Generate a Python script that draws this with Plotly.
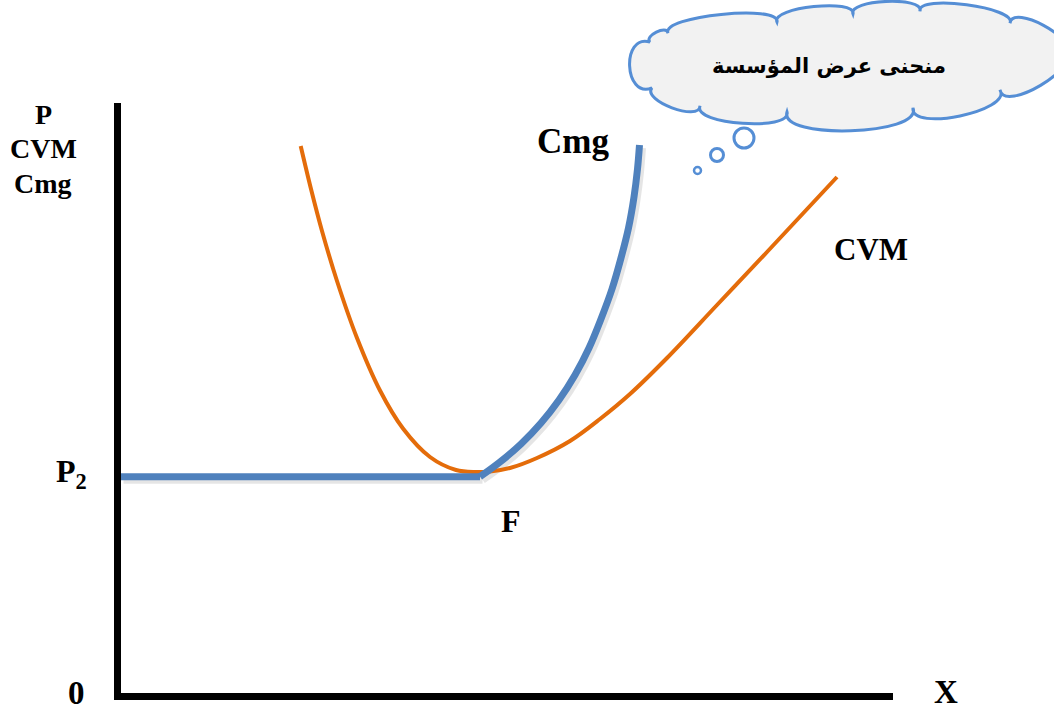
import math
import plotly.graph_objects as go

# ---------------- data (chart units: quantity X, price / cost Y) ----------------
cvm_q = [17.97, 19.0, 20.1, 21.6, 23.6, 25.9, 28.2, 30.9, 33.5, 35.5,
         36.9, 38.9, 41.6, 44.9, 47.9, 50.9, 54.6, 59.6, 64.6, 71.6]
cvm_c = [54.7, 50.4, 46.2, 41.2, 35.5, 30.25, 26.45, 23.6, 22.3, 22.1,
         22.15, 22.5, 23.5, 25.2, 27.4, 29.9, 33.5, 38.8, 44.1, 51.6]

cmg_flat_q = [0.0, 35.9]
cmg_flat_c = [21.63, 21.63]
cmg_q = [35.9, 37.9, 40.0, 42.0, 43.8, 45.4, 46.8, 48.0, 49.1, 50.0, 50.75, 51.3, 51.65, 51.85]
cmg_c = [21.63, 23.1, 24.9, 27.0, 29.3, 31.8, 34.5, 37.4, 40.4, 43.5, 46.5, 49.6, 52.4, 54.8]

x_range = [0, 77.2]
y_range = [0, 59.0]

y_axis_title = ["P", "CVM", "Cmg"]
curve_labels = ["Cmg", "CVM"]
point_labels = ["P<sub>2</sub>", "F", "0", "X"]
cloud_text = "منحنى عرض المؤسسة"

# ---------------- layout geometry ----------------
W_FIG, H_FIG = 1054, 711
L, T, W, H = 121, 103, 772, 590


def fx(px):
    return (px - L) / W


def fy(py):
    return (T + H - py) / H


BLUE = "#4F81BD"
ORANGE = "#E46C0A"
CLOUD_LINE = "#558ED5"
SERIF = "Liberation Serif, Times New Roman, serif"

fig = go.Figure()

# soft shadow of the supply curve
fig.add_trace(go.Scatter(x=[q + 0.25 for q in cmg_flat_q], y=[c - 0.3 for c in cmg_flat_c],
                         mode="lines", line=dict(color="rgba(0,0,0,0.10)", width=8),
                         hoverinfo="skip"))
fig.add_trace(go.Scatter(x=[q + 0.25 for q in cmg_q], y=[c - 0.3 for c in cmg_c],
                         mode="lines", line=dict(color="rgba(0,0,0,0.10)", width=8, shape="spline"),
                         hoverinfo="skip"))

fig.add_trace(go.Scatter(x=cvm_q, y=cvm_c, mode="lines", name="CVM",
                         line=dict(color=ORANGE, width=4, shape="spline", smoothing=1.0)))
fig.add_trace(go.Scatter(x=cmg_flat_q, y=cmg_flat_c, mode="lines", name="Cmg",
                         line=dict(color=BLUE, width=7)))
fig.add_trace(go.Scatter(x=cmg_q, y=cmg_c, mode="lines", name="Cmg",
                         line=dict(color=BLUE, width=7, shape="spline", smoothing=1.0)))

# ---------------- cloud callout (decoration, pixel layout) ----------------
junctions = [(1064, 52), (1000, 90), (913, 108), (787, 112), (700, 106), (652, 88),
             (650, 42), (668, 33), (777, 22), (853, 14), (920, 11), (1010, 23), (1064, 52)]
bulge = [0.30, 0.26, 0.22, 0.22, 0.30, 0.62, 0.40, 0.16, 0.20, 0.22, 0.18, 0.30]

path = []
sx, sy = junctions[0]
path.append(f"M{fx(sx):.5f},{fy(sy):.5f}")
for (ax_, ay_), (bx_, by_), k in zip(junctions[:-1], junctions[1:], bulge):
    ux, uy = bx_ - ax_, by_ - ay_
    chord = math.hypot(ux, uy)
    ux, uy = ux / chord, uy / chord
    nx, ny = uy, -ux  # outward for clockwise traversal on screen
    d = k * chord
    c1 = (ax_ + d * (nx - 0.35 * ux), ay_ + d * (ny - 0.35 * uy))
    c2 = (bx_ + d * (nx + 0.35 * ux), by_ + d * (ny + 0.35 * uy))
    path.append(f"C{fx(c1[0]):.5f},{fy(c1[1]):.5f} {fx(c2[0]):.5f},{fy(c2[1]):.5f} {fx(bx_):.5f},{fy(by_):.5f}")
path.append("Z")

shapes = [dict(type="path", xref="paper", yref="paper", path=" ".join(path),
               fillcolor="#F2F2F2", line=dict(color=CLOUD_LINE, width=3), layer="above")]

for (bx, by, br, bw) in [(744, 138, 10, 3), (717, 155, 6.5, 3), (697.5, 170.5, 3.5, 2.5)]:
    shapes.append(dict(type="circle", xref="paper", yref="paper",
                       x0=fx(bx - br), x1=fx(bx + br), y0=fy(by + br), y1=fy(by - br),
                       fillcolor="white", line=dict(color=CLOUD_LINE, width=bw), layer="above"))

annotations = []


def lab(text, px, py, size, family=SERIF, bold=True):
    annotations.append(dict(text=f"<b>{text}</b>" if bold else text, xref="paper", yref="paper",
                            x=fx(px), y=fy(py), xanchor="center", yanchor="middle",
                            showarrow=False, font=dict(family=family, size=size, color="black")))


lab(y_axis_title[0], 43, 114, 28)
lab(y_axis_title[1], 43, 148, 28)
lab(y_axis_title[2], 43, 184, 28)
lab(curve_labels[0], 573, 141, 35)
lab(curve_labels[1], 871, 249, 31)
lab(point_labels[0], 71, 473, 32)
lab(point_labels[1], 511, 521, 32)
lab(point_labels[2], 76, 693, 33)
lab(point_labels[3], 946, 692, 33)
lab(cloud_text, 829, 66, 21, family="DejaVu Sans")

fig.update_layout(
    width=W_FIG, height=H_FIG,
    margin=dict(l=L, r=W_FIG - L - W, t=T, b=H_FIG - T - H, pad=0),
    paper_bgcolor="white", plot_bgcolor="white",
    showlegend=False,
    shapes=shapes, annotations=annotations,
    xaxis=dict(range=x_range, showline=True, linecolor="black", linewidth=7,
               showgrid=False, zeroline=False, showticklabels=False, ticks=""),
    yaxis=dict(range=y_range, showline=True, linecolor="black", linewidth=7,
               showgrid=False, zeroline=False, showticklabels=False, ticks=""),
)

fig.write_html("out.html", config={"displayModeBar": False},
               post_script="document.body.style.margin='0';document.body.style.overflow='hidden';")
